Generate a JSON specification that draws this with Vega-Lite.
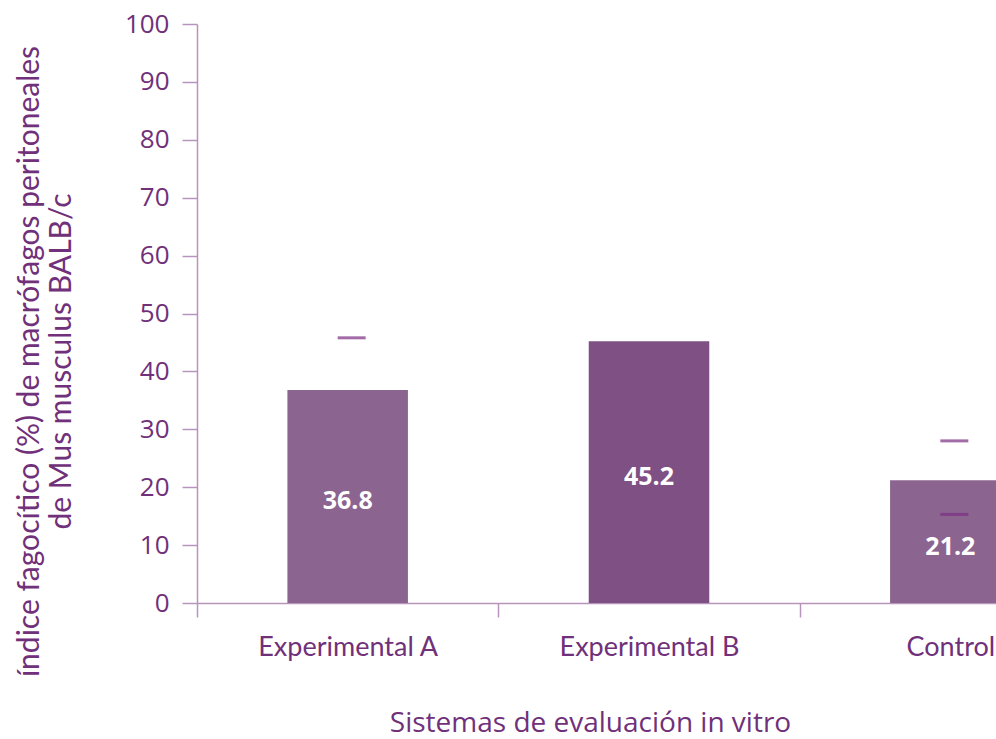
{
  "$schema": "https://vega.github.io/schema/vega-lite/v6.json",
  "width": 799,
  "height": 579,
  "autosize": {"type": "none"},
  "padding": {"left": 197, "top": 24, "right": 0, "bottom": 136},
  "background": "white",
  "config": {"view": {"stroke": null}},
  "datasets": {
    "bars": [
      {"sistema": "Experimental A", "indice": 36.8},
      {"sistema": "Experimental B", "indice": 45.2},
      {"sistema": "Control", "indice": 21.2}
    ],
    "marks": [
      {"sistema": "Experimental A", "valor": 45.8},
      {"sistema": "Control", "valor": 28.0},
      {"sistema": "Control", "valor": 15.3}
    ]
  },
  "layer": [
    {
      "data": {"name": "bars"},
      "mark": {"type": "bar", "width": {"band": 0.4}, "clip": true},
      "encoding": {
        "x": {
          "field": "sistema", "type": "nominal", "sort": null,
          "scale": {"range": [0, 904], "paddingInner": 0, "paddingOuter": 0},
          "axis": {
            "title": "Sistemas de evaluación in vitro",
            "titleFont": "Open Sans", "titleFontSize": 28, "titleFontWeight": "normal",
            "titleColor": "#70307A", "titleX": 393, "titleY": 128,
            "titleBaseline": "alphabetic", "titleAlign": "center", "titleAnchor": null,
            "labelFont": "Lato", "labelFontSize": 27, "labelColor": "#70307A",
            "labelAngle": 0, "labelPadding": 17, "labelLimit": 500,
            "tickBand": "extent", "tickSize": 14, "tickColor": "#B794BC", "tickWidth": 1.5,
            "domainColor": "#B794BC", "domainWidth": 1.5, "grid": false
          }
        },
        "y": {
          "field": "indice", "type": "quantitative",
          "scale": {"domain": [0, 100]},
          "axis": {
            "title": ["índice fagocítico (%) de macrófagos  peritoneales", "de Mus musculus BALB/c"],
            "titleFont": "Lato", "titleFontSize": 30, "titleFontWeight": "normal",
            "titleColor": "#70307A", "titleLineHeight": 32,
            "titleX": -168, "titleY": 337, "titleAngle": -90,
            "titleBaseline": "middle", "titleAlign": "center", "titleAnchor": null,
            "values": [0, 10, 20, 30, 40, 50, 60, 70, 80, 90, 100],
            "labelFont": "Open Sans", "labelFontSize": 26, "labelColor": "#70307A",
            "labelPadding": 13,
            "tickSize": 15, "tickColor": "#B794BC", "tickWidth": 1.5,
            "domainColor": "#B794BC", "domainWidth": 1.5, "grid": false
          }
        },
        "color": {
          "field": "sistema", "type": "nominal", "legend": null,
          "scale": {"domain": ["Experimental A", "Experimental B", "Control"], "range": ["#8C6490", "#7F5084", "#8C6490"]}
        }
      }
    },
    {
      "data": {"name": "bars"},
      "transform": [{"calculate": "datum.indice / 2", "as": "mid"}],
      "mark": {"type": "text", "color": "white", "font": "Open Sans", "fontWeight": "bold", "fontSize": 25, "baseline": "middle", "dy": 5, "clip": true},
      "encoding": {
        "x": {"field": "sistema", "type": "nominal", "sort": null},
        "y": {"field": "mid", "type": "quantitative"},
        "text": {"field": "indice", "type": "quantitative", "format": ".1f"}
      }
    },
    {
      "data": {"name": "marks"},
      "mark": {"type": "tick", "color": "#7A2E82", "size": 28, "thickness": 3, "xOffset": 4, "clip": true},
      "encoding": {
        "x": {"field": "sistema", "type": "nominal", "sort": null},
        "y": {"field": "valor", "type": "quantitative"}
      }
    }
  ]
}
